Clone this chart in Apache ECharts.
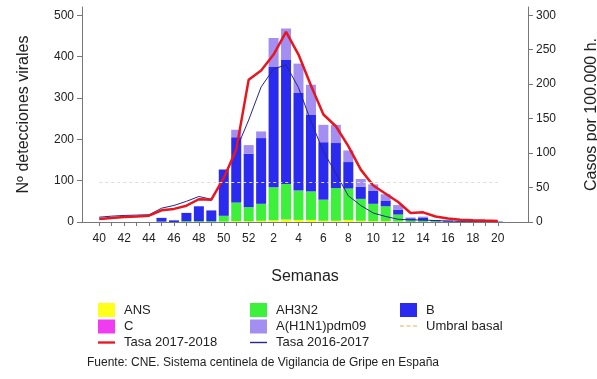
<!DOCTYPE html>
<html>
<head>
<meta charset="utf-8">
<script src="https://cdn.jsdelivr.net/npm/echarts@6/dist/echarts.min.js"></script>
<style>
html,body{margin:0;padding:0;background:#fff;}
#chart{width:597px;height:379px;}
</style>
</head>
<body>
<div id="chart"></div>
<script>
const weeks = ['40','41','42','43','44','45','46','47','48','49','50','51','52','1','2','3','4','5','6','7','8','9','10','11','12','13','14','15','16','17','18','19','20'];
const ANS    = [0,0,0,0,0, 0,0,0,0,0, 1,2,2, 3,4,6,5,5,3,3,5,3,2,2,1, 0,0,0,0,0,0,0,0];
const C      = [0,0,0,0,0, 0,0,0,0,0, 0,0,0, 0,0,0,0,0,0,0,0,0,0,0,0, 0,0,0,0,0,0,0,0];
const AH3N2  = [0,0,0,0,0, 1,0,2,2,2, 14,45,34, 41,80,86,71,69,51,79,76,53,42,36,17, 4,3,2,1,1,1,0,0];
const B      = [0,0,0,0,0, 9,4,20,36,26, 112,158,129, 159,292,301,236,186,139,109,64,29,32,14,12, 5,8,3,2,1,1,1,1];
const H1N1   = [0,0,0,0,0, 0,0,0,0,0, 0,18,21, 16,69,75,71,72,42,44,28,19,15,15,11, 2,2,0,0,0,0,0,0];
const tasa1718 = [4.4,5.8,7.3,8.1,9.1,17,19,23.7,33,32.4, 64,105,206.6, 220,243,276,243,198,156,139,110,76,53,41,29,13,14,8,5,3.3,2.6,2,1.5];
const tasa1617 = [7,8.5,9.5,10,10.5,20,24,30,37,33, 62,105,148, 196,222,228,195,146,102,71,38,24,13,8,4,3,3,2,1.5,1,1,1,1];
const umbral = 57.5;
const leftTicks  = [0,100,200,300,400,500];
const rightTicks = [0,50,100,150,200,250,300];

const FONT = 'Liberation Sans, Arial, sans-serif';
const chart = echarts.init(document.getElementById('chart'));
const axisCol = '#777';
const txt = '#222';

const barSeries = [
  {name:'ANS', data:ANS, color:'#ffff1a'},
  {name:'C', data:C, color:'#f03cf0'},
  {name:'AH3N2', data:AH3N2, color:'#3cf03c'},
  {name:'B', data:B, color:'#2b2bf0'},
  {name:'A(H1N1)pdm09', data:H1N1, color:'#a38ef2'}
].map(s => ({
  name:s.name, type:'bar', stack:'v', data:s.data, barWidth:10,
  itemStyle:{color:s.color}, xAxisIndex:0, yAxisIndex:0
}));

const ICON_THICK = 'path://M0,0L16,0L16,2.2L0,2.2Z';
const ICON_THIN = 'path://M0,0L12,0L12,1L0,1Z';
const ICON_DASH = 'path://M0,0L3,0L3,1.2L0,1.2Z M5,0L8,0L8,1.2L5,1.2Z M10,0L13,0L13,1.2L10,1.2Z';

const legendBase = {
  orient:'vertical', itemWidth:17, itemHeight:14, itemGap:2.5,
  textStyle:{fontFamily:FONT, fontSize:13, color:txt, padding:[0,0,0,4]}
};

chart.setOption({
  animation:false,
  textStyle:{fontFamily:FONT},
  grid:[
    {left:93, right:93, top:7, bottom:157, outerBoundsMode:'none', containLabel:false},
    {left:82, right:69, top:7, bottom:157, outerBoundsMode:'none', containLabel:false}
  ],
  xAxis:[
    {type:'category', gridIndex:0, data:weeks, boundaryGap:true,
     axisLine:{show:false},
     axisTick:{show:true, alignWithLabel:true, interval:0, length:4, lineStyle:{color:axisCol}},
     axisLabel:{interval:1, margin:11, fontSize:12, color:txt, fontFamily:FONT}},
    {type:'value', gridIndex:1, min:0, max:1,
     axisLine:{show:true, lineStyle:{color:axisCol}},
     axisTick:{show:false}, axisLabel:{show:false}, splitLine:{show:false},
     name:'Semanas', nameLocation:'middle', nameGap:47,
     nameTextStyle:{fontSize:16, color:txt, fontFamily:FONT}}
  ],
  yAxis:[
    {type:'value', gridIndex:0, position:'left', offset:11, min:0, max:520,
     axisLine:{show:true, lineStyle:{color:axisCol}},
     axisTick:{show:true, length:5, customValues:leftTicks, lineStyle:{color:axisCol}},
     axisLabel:{fontSize:12, color:txt, margin:8, customValues:leftTicks, fontFamily:FONT},
     splitLine:{show:false},
     name:'Nº detecciones virales', nameLocation:'middle', nameGap:50, nameRotate:90,
     nameTextStyle:{fontSize:16, color:txt, fontFamily:FONT}},
    {type:'value', gridIndex:0, position:'right', offset:24, min:0, max:312,
     axisLine:{show:true, lineStyle:{color:axisCol}},
     axisTick:{show:true, length:5, customValues:rightTicks, lineStyle:{color:axisCol}},
     axisLabel:{fontSize:12, color:txt, margin:8, customValues:rightTicks, fontFamily:FONT},
     splitLine:{show:false},
     name:'Casos por 100.000 h.', nameLocation:'middle', nameGap:56, nameRotate:90,
     nameTextStyle:{fontSize:16, color:txt, fontFamily:FONT}},
    {type:'value', gridIndex:1, show:false, min:0, max:1}
  ],
  legend:[
    Object.assign({left:93, top:298, data:[{name:'ANS',icon:'rect'},{name:'C',icon:'rect'},{name:'Tasa 2017-2018',icon:ICON_THICK}]}, legendBase),
    Object.assign({left:245, top:298, data:[{name:'AH3N2',icon:'rect'},{name:'A(H1N1)pdm09',icon:'rect'},{name:'Tasa 2016-2017',icon:ICON_THIN}]}, legendBase),
    Object.assign({left:395, top:298, data:[{name:'B',icon:'rect'},{name:'Umbral basal',icon:ICON_DASH}]}, legendBase)
  ],
  title:{text:'Fuente: CNE. Sistema centinela de Vigilancia de Gripe en España',
    left:82, top:352, textStyle:{fontSize:12, fontWeight:'normal', color:txt, fontFamily:FONT}},
  series: barSeries.concat([
    {name:'Umbral basal', type:'line', data:[], xAxisIndex:0, yAxisIndex:1,
     symbol:'none', lineStyle:{color:'#f0c890', width:1.5, type:'dashed'}, itemStyle:{color:'#f0c890'},
     markLine:{silent:true, symbol:'none', label:{show:false},
       lineStyle:{color:'#e4dccb', width:1, type:[3,3]},
       data:[[{xAxis:weeks[0], yAxis:umbral},{xAxis:weeks[weeks.length-1], yAxis:umbral}]]}},
    {name:'Tasa 2017-2018', type:'line', data:tasa1718, xAxisIndex:0, yAxisIndex:1,
     symbol:'none', lineStyle:{color:'#e8161e', width:2.5}, itemStyle:{color:'#e8161e'}, z:4},
    {name:'Tasa 2016-2017', type:'line', data:tasa1617, xAxisIndex:0, yAxisIndex:1,
     symbol:'none', lineStyle:{color:'#26268f', width:1}, itemStyle:{color:'#26268f'}, z:3}
  ])
});
</script>
</body>
</html>
